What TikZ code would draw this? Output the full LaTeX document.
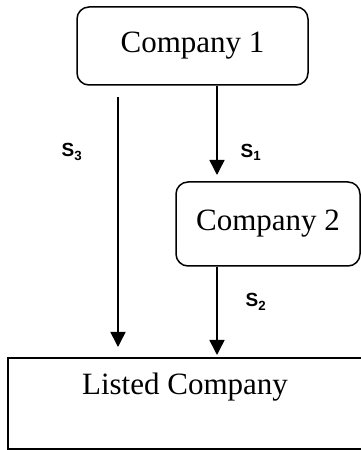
\documentclass[tikz,border=0pt]{standalone}
\usepackage{fontspec}
\setmainfont{Liberation Serif}
\setsansfont{Liberation Sans}
\usetikzlibrary{arrows.meta}
\begin{document}
\begin{tikzpicture}[x=1pt,y=1pt,
  box/.style={draw, line width=1.5pt, rounded corners=12pt, font=\fontsize{31}{36}\selectfont, inner sep=0pt},
  plainbox/.style={draw, line width=1.5pt, inner sep=0pt},
  txt/.style={font=\fontsize{31}{36}\selectfont, inner sep=0pt},
  conn/.style={line width=1.5pt, -{Triangle[width=15pt,length=15pt]}},
  lab/.style={font=\sffamily\bfseries\fontsize{19}{22}\selectfont, inner sep=0pt}]
\useasboundingbox (0,0) rectangle (361,450);
\node[box, minimum width=231pt, minimum height=78pt] (c1) at (192.5,404) {Company 1};
\node[box, minimum width=184pt, minimum height=84pt] (c2) at (268,226) {Company 2};
\node[plainbox, minimum width=358pt, minimum height=91pt] (lc) at (187,46.5) {};
\node[txt] (lct) at (185,63) {Listed Company};
\coordinate (a1s) at (118,353);
\coordinate (a1e) at (118,103);
\coordinate (a2e) at (217,275);
\coordinate (a3e) at (217,95);
\draw[conn] (a1s) -- (a1e);
\draw[conn] (a2e |- c1.south) -- (a2e);
\draw[conn] (a3e |- c2.south) -- (a3e);
\node[lab] (s3) at (72,298) {S\textsubscript{3}};
\node[lab] (s1) at (251,298) {S\textsubscript{1}};
\node[lab] (s2) at (256,148) {S\textsubscript{2}};
\end{tikzpicture}
\end{document}
